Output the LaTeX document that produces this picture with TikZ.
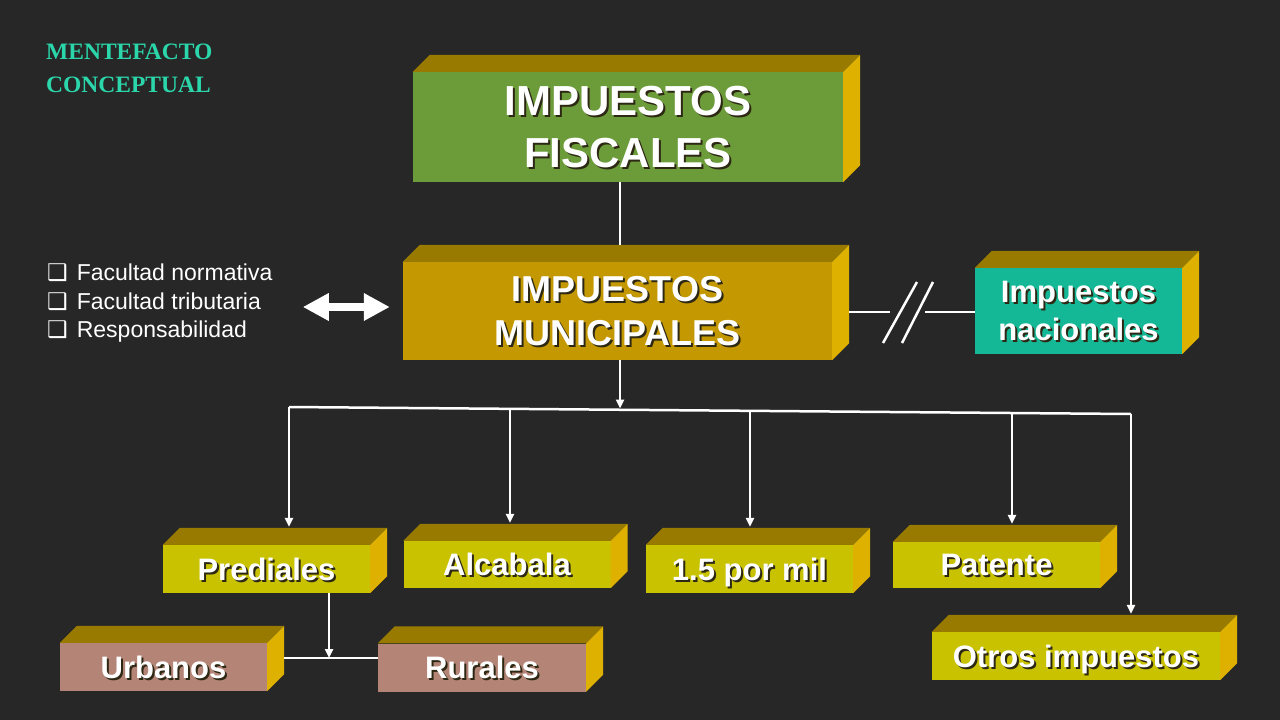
\documentclass[tikz,border=0pt]{standalone}
\usepackage{fontspec}
\setmainfont{Liberation Sans}
\newfontfamily\titlefont{Liberation Serif}
\newfontfamily\symfont{DejaVu Sans}
\usetikzlibrary{arrows.meta,calc}
\definecolor{bg}{RGB}{39,39,39}
\definecolor{topc}{RGB}{152,122,0}
\definecolor{sidec}{RGB}{222,176,0}
\definecolor{fgreen}{RGB}{108,156,58}
\definecolor{fgold}{RGB}{196,152,0}
\definecolor{fteal}{RGB}{20,184,150}
\definecolor{fyellow}{RGB}{200,194,0}
\definecolor{fpink}{RGB}{180,133,119}
\definecolor{ttl}{RGB}{42,214,170}
\definecolor{shd}{RGB}{45,40,20}
\newcommand\sh[1]{\leavevmode\rlap{\kern2pt\raisebox{-2pt}{\textcolor{shd}{#1}}}#1}
\newcommand\boxfaces[1]{%
 \fill[topc] (#1.north west) -- ++(17pt,17pt) -- ([shift={(17pt,17pt)}]#1.north east) -- (#1.north east) -- cycle;
 \fill[sidec] (#1.north east) -- ([shift={(17pt,17pt)}]#1.north east) -- ([shift={(17pt,17pt)}]#1.south east) -- (#1.south east) -- cycle;}
\begin{document}
\begin{tikzpicture}[x=1pt,y=-1pt,
  box/.style={inner sep=0pt, text=white, text depth=0pt, align=center},
  small/.style={box, minimum width=207pt, minimum height=48pt, font={\bfseries\fontsize{31}{38}\selectfont}},
  conn/.style={draw=white, line width=2.5pt},
  arr/.style={conn, -{Triangle[length=9pt,width=8pt]}}]
\fill[bg] (0,0) rectangle (1280,720);
\useasboundingbox (0,0) rectangle (1280,720);

% title
\node[anchor=north west, inner sep=0pt, text=ttl, align=left,
  font={\titlefont\bfseries\fontsize{23.5}{33}\selectfont}] (title) at (46,44) {MENTEFACTO\\CONCEPTUAL};

% boxes
\node[box, fill=fgreen, minimum width=430pt, minimum height=110pt,
  font={\bfseries\fontsize{42}{52}\selectfont}] (fis) at (628,127) {\sh{IMPUESTOS}\\\sh{FISCALES}};
\boxfaces{fis}
\node[box, fill=fgold, minimum width=429pt, minimum height=98pt,
  font={\bfseries\fontsize{36}{44}\selectfont}] (mun) at (617.5,311) {\sh{IMPUESTOS}\\\sh{MUNICIPALES}};
\boxfaces{mun}
\node[box, fill=fteal, minimum width=207pt, minimum height=86pt,
  font={\bfseries\fontsize{31}{38}\selectfont}] (nac) at (1078.5,311) {\sh{Impuestos}\\\sh{nacionales}};
\boxfaces{nac}
\node[small, fill=fyellow] (pred) at (266.5,569) {\sh{Prediales}};
\boxfaces{pred}
\node[small, fill=fyellow, minimum height=47pt] (alc) at (507,564.5) {\sh{Alcabala}};
\boxfaces{alc}
\node[small, fill=fyellow] (pm) at (749.5,569) {\sh{1.5 por mil}};
\boxfaces{pm}
\node[small, fill=fyellow, minimum height=46pt] (pat) at (996.5,565) {\sh{Patente}};
\boxfaces{pat}
\node[small, fill=fyellow, minimum width=288pt] (otr) at (1076,656) {\sh{Otros impuestos}};
\boxfaces{otr}
\node[small, fill=fpink] (urb) at (163.5,667) {\sh{Urbanos}};
\boxfaces{urb}
\node[small, fill=fpink, minimum width=208pt] (rur) at (482,667.5) {\sh{Rurales}};
\boxfaces{rur}

% list
\node[anchor=north west, inner sep=0pt, text=white, align=left,
  font={\fontsize{23}{28.5}\selectfont}] (lst) at (47,264)
  {{\symfont ❑}\hspace{9pt}Facultad normativa\\{\symfont ❑}\hspace{9pt}Facultad tributaria\\{\symfont ❑}\hspace{9pt}Responsabilidad};
\draw[white, line width=8pt, {Triangle[length=26pt,width=26pt]}-{Triangle[length=26pt,width=26pt]}]
  ([shift={(-100pt,4pt)}]mun.west) -- ([shift={(-13pt,4pt)}]mun.west);

% connectors
\coordinate (b1) at (289,407);
\coordinate (b2) at (510,409);
\coordinate (b3) at (750,411);
\coordinate (b4) at (1012,413);
\coordinate (b5) at (1131,414);
\coordinate (bm) at (620,408.5);
\draw[conn, shorten >=17pt] (bm |- fis.south) -- (bm |- mun.north);
\draw[arr] (bm |- mun.south) -- (bm);
\draw[conn] (b1) -- (b5);
\draw[arr, shorten >=18pt] (b1) -- (b1 |- pred.north);
\draw[arr, shorten >=18pt] (b2) -- (b2 |- alc.north);
\draw[arr, shorten >=18pt] (b3) -- (b3 |- pm.north);
\draw[arr, shorten >=18pt] (b4) -- (b4 |- pat.north);
\draw[arr, shorten >=18pt] (b5) -- (b5 |- otr.north);

\coordinate (j) at (329,658);
\draw[arr] (j |- pred.south) -- (j);
\path ([xshift=17pt]urb.east) coordinate (ue);
\draw[conn] (ue |- j) -- (rur.west |- j);

\coordinate (s1) at (890,312);
\coordinate (s2) at (925,312);
\path ([xshift=17pt]mun.east) coordinate (me);
\draw[conn] (me |- s1) -- (s1);
\draw[conn] (s2) -- (nac.west |- s2);
\draw[conn] (883,343) -- (917,282);
\draw[conn] (902,343) -- (933,282);
\end{tikzpicture}
\end{document}
